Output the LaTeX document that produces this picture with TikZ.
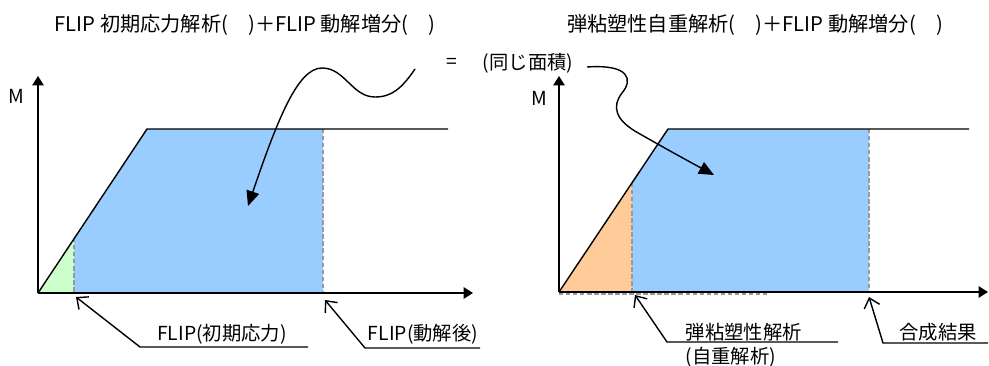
\documentclass[tikz,border=0pt]{standalone}
\usepackage{fontspec}
\setmainfont{Noto Sans CJK JP}
\usetikzlibrary{arrows.meta}
\definecolor{cblue}{HTML}{99CCFF}
\definecolor{cgreen}{HTML}{CCFFCC}
\definecolor{corange}{HTML}{FFCC99}
\definecolor{cgrey}{HTML}{999999}
\tikzset{
  every picture/.style={line width=0.8pt},
  axis/.style={-{Triangle[length=1.9mm, width=2.3mm]}, line width=1pt},
  guide/.style={draw=cgrey, dash pattern=on 2.5pt off 1.5pt, line width=0.6pt},
  wavy/.style={-{Triangle[length=3mm, width=2.6mm]}, line width=0.8pt},
  pointer/.style={-{Straight Barb[length=1.8mm, width=3.2mm]}, line width=0.8pt},
  title/.style={font=\fontsize{11.5}{14}\selectfont, inner sep=0pt},
  lbl/.style={font=\fontsize{11}{13}\selectfont, inner sep=0pt},
}

\begin{document}
\begin{tikzpicture}[x=0.02cm, y=-0.02cm]
  \useasboundingbox (0,0) rectangle (989,365);
  \node[title] (t1) at (245,25) {FLIP 初期応力解析(　)＋FLIP 動解増分(　)};
  \node[title] (t2) at (755,25) {弾粘塑性自重解析(　)＋FLIP 動解増分(　)};
  \node[lbl] (eq) at (452,63) {=};
  \node[lbl] (area) at (528,63) {(同じ面積)};
  % left chart
  \fill[cgreen] (38,293) -- (74,238) -- (74,293) -- cycle;
  \fill[cblue] (74,293) -- (74,238) -- (147,129) -- (323,129) -- (323,293) -- cycle;
  \draw[guide] (74,238) -- (74,293);
  \draw[guide] (323,129) -- (323,293);
  \draw (38,293) -- (147,129) -- (448,129);
  \draw[axis] (38,293) -- (473,293);
  \draw[axis] (38,293) -- (38,76);
  \node[lbl] (m1) at (16,96) {M};
  % right chart
  \fill[corange] (559,292) -- (632,183) -- (632,292) -- cycle;
  \fill[cblue] (632,292) -- (632,183) -- (668,129) -- (869,129) -- (869,292) -- cycle;
  \draw[guide] (632,183) -- (632,292);
  \draw[guide] (869,129) -- (869,292);
  \draw[guide] (559,294) -- (767,294);
  \draw (559,292) -- (668,129) -- (969,129);
  \draw[axis] (559,292) -- (988,292);
  \draw[axis] (559,292) -- (559,76);
  \node[lbl] (m2) at (539,98) {M};
  % same-area arrows
  \coordinate (w1) at (415,69);
  \coordinate (a1) at (248,206);
  \draw[wavy] (w1) .. controls (402,88) and (392,97) .. (375,97)
    .. controls (352,97) and (345,68) .. (322,68)
    .. controls (298,68) and (278,118) .. (a1);
  \coordinate (w2) at (587,67);
  \coordinate (a2) at (714,175);
  \draw[wavy] (w2) .. controls (630,64) and (633,80) .. (622,93)
    .. controls (612,106) and (614,120) .. (640,134)
    .. controls (668,150) and (690,162) .. (a2);
  % callouts
  \node[lbl] (c1) at (222,334) {FLIP(初期応力)};
  \node[lbl] (c2) at (423,334) {FLIP(動解後)};
  \node[lbl, anchor=west] (c3) at (685,332) {弾粘塑性解析};
  \node[lbl, anchor=west] (c3b) at (685,357) {(自重解析)};
  \node[lbl] (c4) at (938,332) {合成結果};
  \coordinate (p1) at (76,297);
  \coordinate (k1) at (140,347);
  \coordinate (u1) at (308,347);
  \coordinate (p2) at (325,300);
  \coordinate (k2) at (365,348);
  \coordinate (u2) at (480,348);
  \coordinate (p3) at (635,295);
  \coordinate (k3) at (667,342);
  \coordinate (u3) at (838,342);
  \coordinate (p4) at (869,297);
  \coordinate (k4) at (883,343);
  \coordinate (u4) at (988,343);
  \draw[pointer] (u1) -- (k1) -- (p1);
  \draw[pointer] (u2) -- (k2) -- (p2);
  \draw[pointer] (u3) -- (k3) -- (p3);
  \draw[pointer] (u4) -- (k4) -- (p4);
\end{tikzpicture}
\end{document}
